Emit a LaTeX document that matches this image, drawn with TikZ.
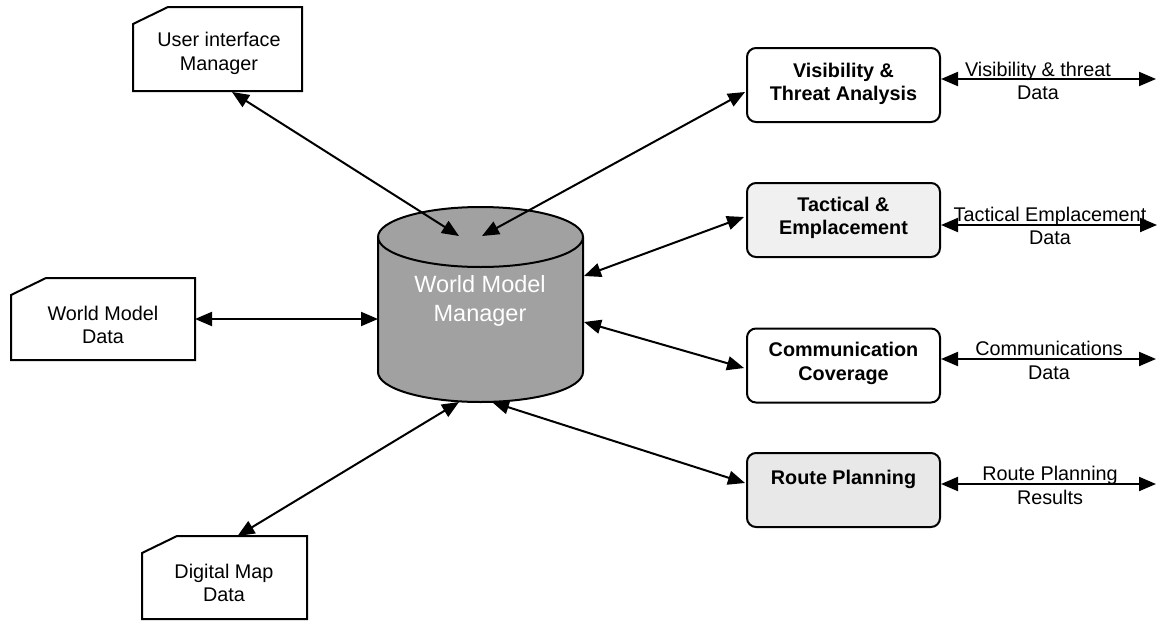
\documentclass[tikz,border=0pt]{standalone}
\usepackage{fontspec}
\setmainfont{Liberation Sans}
\usetikzlibrary{arrows.meta,calc}

% outline of a data file: rectangle with the top-left corner cut off
\newcommand\fileoutline[1]{%
  \draw[line] ([yshift=-17pt]#1.north west) -- ([xshift=35pt]#1.north west)
    -- (#1.north east) -- (#1.south east) -- (#1.south west) -- cycle;}

\begin{document}
\begin{tikzpicture}[x=1pt,y=-1pt,
  line/.style={line width=2pt},
  link/.style={line, {Triangle[length=17pt,width=14pt]}-{Triangle[length=17pt,width=14pt]}},
  procbox/.style={draw, line width=2pt, rounded corners=9pt,
                  minimum width=193pt, minimum height=74pt, inner sep=0pt},
  filebox/.style={inner sep=0pt, outer sep=0pt},
  lbl/.style={align=center, inner sep=0pt, font=\fontsize{19.8}{23.5}\selectfont},
  boldlbl/.style={lbl, font=\fontsize{19.8}{23.5}\selectfont\bfseries},
  cylfill/.style={fill=black!37},
]
\useasboundingbox (0,0) rectangle (1158,621);
\fill[white] (0,0) rectangle (1158,621);

% ---- data files on the left ----
\node[filebox, minimum width=169pt, minimum height=84pt] (ui) at (217.5,49) {};
\fileoutline{ui}
\node[lbl] (uit) at (219,53.5) {User interface\\Manager};

\node[filebox, minimum width=184pt, minimum height=82pt] (wm) at (103,319) {};
\fileoutline{wm}
\node[lbl] (wmt) at (103,325) {World Model\\Data};

\node[filebox, minimum width=165pt, minimum height=83pt] (dm) at (224.5,577.5) {};
\fileoutline{dm}
\node[lbl] (dmt) at (224,583) {Digital Map\\Data};

% ---- world model manager (cylinder) ----
\fill[cylfill] (378,237) -- (378,372)
  arc[start angle=180, end angle=360, x radius=102.5pt, y radius=30pt]
  -- (583,237)
  arc[start angle=0, end angle=180, x radius=102.5pt, y radius=30pt] -- cycle;
\draw[line] (480.5,237) ellipse [x radius=102.5pt, y radius=30pt];
\draw[line] (378,237) -- (378,372)
  arc[start angle=180, end angle=360, x radius=102.5pt, y radius=30pt] -- (583,237);
\node[align=center, inner sep=0pt, text=white, font=\fontsize{23.5}{29}\selectfont]
  (wmm) at (480,300.5) {World Model\\Manager};

\coordinate (wmmUI) at (459,236);
\coordinate (wmmVT) at (482,236);
\coordinate (wmmTE) at (584,276);
\coordinate (wmmCC) at (584,322);
\coordinate (wmmWM) at (378,319);
\coordinate (wmmDM) at (459,402);
\coordinate (wmmRP) at (492,402);

% ---- analysis modules on the right ----
\node[procbox] (vt) at (843.5,85) {};
\node[boldlbl] (vtt) at (843.5,84) {Visibility \&\\Threat Analysis};

\node[procbox, fill=black!6] (te) at (843.5,220) {};
\node[boldlbl] (tet) at (843.5,218) {Tactical \&\\Emplacement};

\node[procbox] (cc) at (843.5,365.5) {};
\node[boldlbl] (cct) at (843.5,363.5) {Communication\\Coverage};

\node[procbox, fill=black!9] (rp) at (843.5,490) {};
\node[boldlbl] (rpt) at (843.5,479) {Route Planning};

% ---- outputs ----
\coordinate (vtR) at (1156,79);
\coordinate (teR) at (1157,225);
\coordinate (ccR) at (1156,359);
\coordinate (rpR) at (1156,484);

\node[lbl] (vtl) at (1038,81) {Visibility \& threat\\Data};
\node[lbl] (tel) at (1050,226) {Tactical Emplacement\\Data};
\node[lbl] (ccl) at (1049,360.5) {Communications\\Data};
\node[lbl] (rpl) at (1050,485.5) {Route Planning\\Results};

% ---- connectors ----
\draw[link] ($(ui.south)+(14.5,1)$) -- (wmmUI);
\draw[link] (wmmVT) -- ($(vt.west)+(-1,7)$);
\draw[link] (wmmTE) -- ($(te.west)+(-2,-3)$);
\draw[link] (wmmCC) -- ($(cc.west)+(-2,2.5)$);
\draw[link] (wm.east) -- (wmmWM);
\draw[link] (wmmDM) -- ($(dm.north)+(13,0)$);
\draw[link] (wmmRP) -- ($(rp.west)+(-1,-7)$);

\draw[link] ($(vt.east)+(0,-6)$) -- (vtR);
\draw[link] ($(te.east)+(0,5)$) -- (teR);
\draw[link] ($(cc.east)+(0,-6.5)$) -- (ccR);
\draw[link] ($(rp.east)+(0,-6)$) -- (rpR);
\end{tikzpicture}
\end{document}
